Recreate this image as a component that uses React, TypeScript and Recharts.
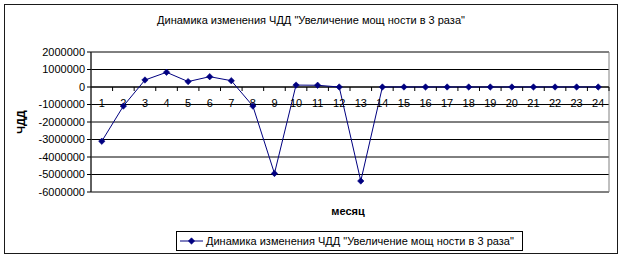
import React from 'react';
import { LineChart, Line, XAxis, YAxis, CartesianGrid, ReferenceLine, ReferenceArea } from 'recharts';

const months = ['1','2','3','4','5','6','7','8','9','10','11','12','13','14','15','16','17','18','19','20','21','22','23','24'];
const chdd = [-3100000, -1090000, 400000, 840000, 310000, 590000, 360000, -1090000, -4940000, 110000, 100000, 0, -5370000, 0, 0, 0, 0, 0, 0, 0, 0, 0, 0, 0];
const yTicks = [2000000, 1000000, 0, -1000000, -2000000, -3000000, -4000000, -5000000, -6000000];
const titleText = 'Динамика изменения ЧДД "Увеличение мощ ности в 3 раза"';
const seriesName = 'Динамика изменения ЧДД "Увеличение мощ ности в 3 раза"';
const yLabel = 'ЧДД';
const xLabel = 'месяц';

const data = months.map((m, i) => ({ month: m, value: chdd[i], base: 0 }));

const FONT = '"Liberation Sans", Arial, sans-serif';
const NAVY = '#000080';

const Diamond = (props: any) => {
  const { cx, cy } = props;
  if (cx == null || cy == null) return null;
  const s = 3.2;
  return (
    <path
      d={`M${cx},${cy - s}L${cx + s},${cy}L${cx},${cy + s}L${cx - s},${cy}Z`}
      fill={NAVY}
      stroke={NAVY}
      strokeWidth={0.6}
    />
  );
};

const AxisMark = (props: any) => {
  const { cx, cy, index, points, payload } = props;
  if (cx == null || cy == null) return null;
  const pts = points || [];
  const other = pts[index + 1] || pts[index - 1];
  const half = other ? Math.abs(other.x - cx) / 2 : 0;
  return (
    <g>
      <line x1={cx + half} x2={cx + half} y1={cy} y2={cy + 4} stroke="#000" strokeWidth={1} />
      <text x={cx} y={cy + 20} textAnchor="middle" fontSize={11} fontFamily={FONT} fill="#000">
        {payload.month}
      </text>
    </g>
  );
};

export default function App() {
  return (
    <div style={{ position: 'absolute', left: 0, top: 0, width: 623, height: 259, background: '#fff', fontFamily: FONT }}>
      <div style={{ position: 'absolute', left: 4, top: 4, width: 614, height: 250, border: '1px solid #1a1a1a', boxSizing: 'border-box' }} />
      <div style={{ position: 'absolute', left: 0, top: 0 }}>
        <LineChart width={623} height={259} data={data} margin={{ top: 52, right: 14, bottom: 67, left: 0 }}>
          <CartesianGrid vertical={false} stroke="#000" strokeWidth={1} />
          <ReferenceArea y1={-6000000} y2={2000000} fill="none" fillOpacity={0} stroke="#808080" strokeWidth={1} ifOverflow="visible" />
          <XAxis dataKey="month" scale="band" hide />
          <YAxis
            width={91}
            domain={[-6000000, 2000000]}
            ticks={yTicks}
            interval={0}
            allowDataOverflow
            tick={{ fontSize: 11, fill: '#000', fontFamily: FONT }}
            tickSize={4}
            tickLine={{ stroke: '#000' }}
            axisLine={{ stroke: '#000' }}
          />
          <ReferenceLine y={0} stroke="#000" strokeWidth={1} />
          <Line dataKey="base" stroke="none" dot={<AxisMark />} activeDot={false} isAnimationActive={false} legendType="none" />
          <Line dataKey="value" name={seriesName} stroke={NAVY} strokeWidth={1} dot={<Diamond />} activeDot={false} isAnimationActive={false} />
        </LineChart>
      </div>
      <svg width={623} height={259} style={{ position: 'absolute', left: 0, top: 0, pointerEvents: 'none' }}>
        <text x={311} y={24} textAnchor="middle" fontSize={11} fontFamily={FONT} fill="#000">{titleText}</text>
        <text x={0} y={0} transform="translate(25,122) rotate(-90)" textAnchor="middle" fontSize={11} fontWeight="bold" fontFamily={FONT} fill="#000">{yLabel}</text>
        <text x={348} y={215} textAnchor="middle" fontSize={11} fontWeight="bold" fontFamily={FONT} fill="#000">{xLabel}</text>
        <rect x={176.5} y={231.5} width={346} height={19} fill="#fff" stroke="#000" strokeWidth={1} />
        <line x1={180} x2={203} y1={241} y2={241} stroke={NAVY} strokeWidth={1} />
        <Diamond cx={191.5} cy={241} />
        <text x={206} y={245} fontSize={11} fontFamily={FONT} fill="#000">{seriesName}</text>
      </svg>
    </div>
  );
}
